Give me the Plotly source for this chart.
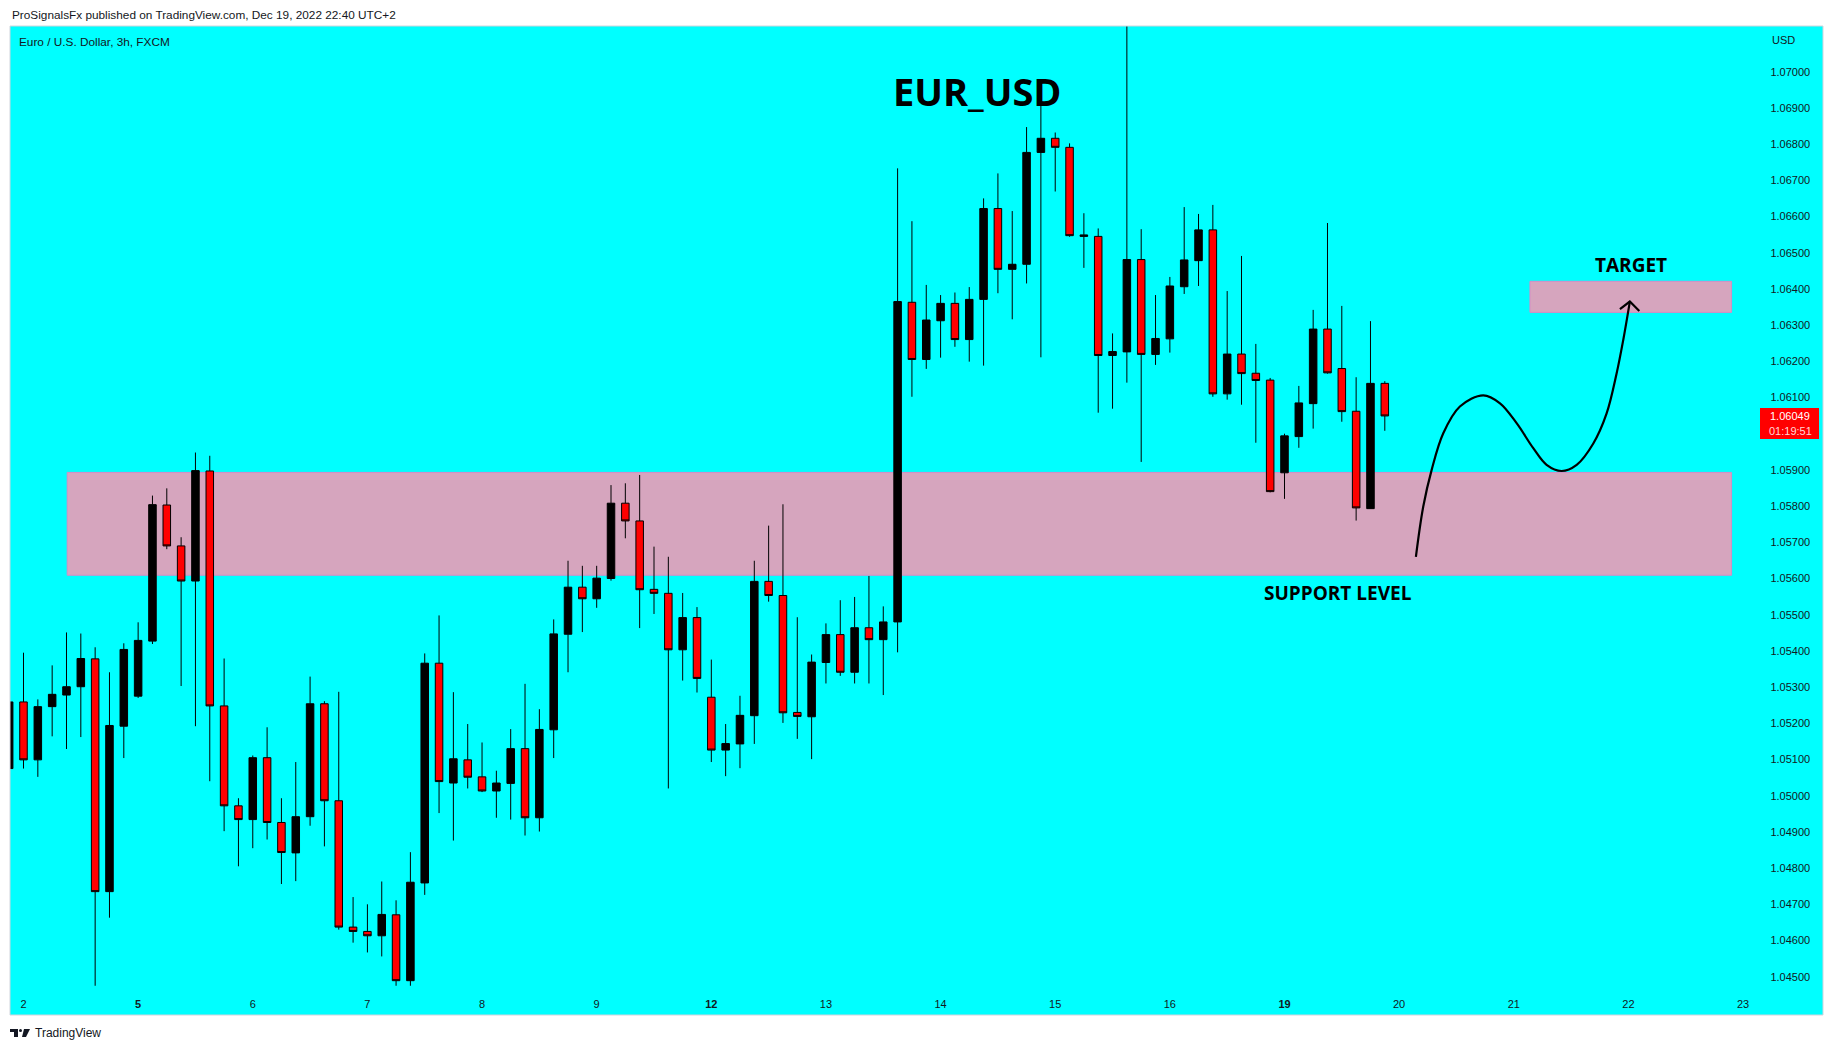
import plotly.graph_objects as go

# ---------------- data (3h EUR/USD candles, index 0 = Dec 2 00:00) ----------------
bar_index = list(range(-1, 96))
opens = [1.05075, 1.05259, 1.05099, 1.05246, 1.05278, 1.05301, 1.05378, 1.04735, 1.05192, 1.05275,
         1.05427, 1.05803, 1.05690, 1.05593, 1.05897, 1.05248, 1.04972, 1.04934, 1.05105, 1.04926,
         1.04842, 1.04942, 1.05254, 1.04986, 1.04637, 1.04625, 1.04613, 1.04671, 1.04489, 1.04759,
         1.05366, 1.05035, 1.05099, 1.05052, 1.05013, 1.05034, 1.05130, 1.04939, 1.05182, 1.05446,
         1.05576, 1.05544, 1.05600, 1.05808, 1.05759, 1.05570, 1.05559, 1.05403, 1.05492, 1.05272,
         1.05126, 1.05143, 1.05221, 1.05592, 1.05553, 1.05230, 1.05218, 1.05368, 1.05445, 1.05341,
         1.05464, 1.05431, 1.05480, 1.06363, 1.06205, 1.06312, 1.06360, 1.06260, 1.06371, 1.06622,
         1.06454, 1.06468, 1.06777, 1.06816, 1.06791, 1.06545, 1.06545, 1.06216, 1.06226, 1.06481,
         1.06219, 1.06262, 1.06406, 1.06478, 1.06563, 1.06110, 1.06220, 1.06167, 1.06148, 1.05892,
         1.05992, 1.06083, 1.06289, 1.06180, 1.06062, 1.05793, 1.06139]
highs = [1.05303, 1.05395, 1.05266, 1.05360, 1.05451, 1.05448, 1.05410, 1.05341, 1.05421, 1.05479,
         1.05829, 1.05849, 1.05714, 1.05948, 1.05939, 1.05379, 1.04993, 1.05111, 1.05189, 1.04993,
         1.05093, 1.05329, 1.05261, 1.05287, 1.04720, 1.04700, 1.04763, 1.04711, 1.04844, 1.05393,
         1.05498, 1.05286, 1.05198, 1.05147, 1.05069, 1.05184, 1.05309, 1.05239, 1.05487, 1.05649,
         1.05635, 1.05635, 1.05858, 1.05863, 1.05886, 1.05688, 1.05660, 1.05560, 1.05521, 1.05376,
         1.05198, 1.05276, 1.05649, 1.05746, 1.05805, 1.05493, 1.05390, 1.05476, 1.05540, 1.05549,
         1.05607, 1.05523, 1.06733, 1.06587, 1.06411, 1.06383, 1.06390, 1.06405, 1.06650, 1.06719,
         1.06615, 1.06847, 1.06914, 1.06832, 1.06802, 1.06609, 1.06567, 1.06277, 1.07150, 1.06565,
         1.06383, 1.06433, 1.06626, 1.06607, 1.06632, 1.06394, 1.06491, 1.06248, 1.06154, 1.06000,
         1.06132, 1.06342, 1.06582, 1.06353, 1.06156, 1.06311, 1.06145]
lows = [1.04960, 1.05075, 1.05052, 1.05164, 1.05129, 1.05162, 1.04475, 1.04663, 1.05104, 1.05270,
        1.05419, 1.05681, 1.05303, 1.05192, 1.05040, 1.04902, 1.04805, 1.04855, 1.04879, 1.04756,
        1.04764, 1.04917, 1.04860, 1.04630, 1.04594, 1.04567, 1.04556, 1.04475, 1.04475, 1.04726,
        1.04952, 1.04876, 1.05020, 1.05010, 1.04939, 1.04934, 1.04890, 1.04901, 1.05104, 1.05341,
        1.05452, 1.05519, 1.05594, 1.05711, 1.05463, 1.05502, 1.05020, 1.05318, 1.05285, 1.05093,
        1.05054, 1.05076, 1.05143, 1.05536, 1.05201, 1.05157, 1.05101, 1.05310, 1.05331, 1.05310,
        1.05310, 1.05278, 1.05396, 1.06102, 1.06179, 1.06210, 1.06240, 1.06199, 1.06188, 1.06388,
        1.06316, 1.06415, 1.06211, 1.06669, 1.06544, 1.06458, 1.06058, 1.06069, 1.06141, 1.05922,
        1.06190, 1.06224, 1.06386, 1.06408, 1.06102, 1.06094, 1.06080, 1.05975, 1.05838, 1.05820,
        1.05961, 1.06014, 1.06166, 1.06033, 1.05760, 1.05793, 1.06008]
closes = [1.05259, 1.05099, 1.05246, 1.05280, 1.05301, 1.05379, 1.04735, 1.05194, 1.05404, 1.05429,
          1.05804, 1.05690, 1.05593, 1.05898, 1.05248, 1.04972, 1.04934, 1.05105, 1.04926, 1.04843,
          1.04942, 1.05254, 1.04986, 1.04637, 1.04625, 1.04613, 1.04672, 1.04489, 1.04761, 1.05366,
          1.05039, 1.05102, 1.05051, 1.05013, 1.05035, 1.05130, 1.04939, 1.05183, 1.05447, 1.05576,
          1.05544, 1.05601, 1.05808, 1.05759, 1.05569, 1.05559, 1.05403, 1.05492, 1.05324, 1.05126,
          1.05144, 1.05222, 1.05592, 1.05553, 1.05229, 1.05219, 1.05369, 1.05445, 1.05341, 1.05464,
          1.05431, 1.05480, 1.06365, 1.06205, 1.06314, 1.06360, 1.06260, 1.06371, 1.06622, 1.06454,
          1.06468, 1.06777, 1.06816, 1.06791, 1.06547, 1.06549, 1.06216, 1.06227, 1.06481, 1.06219,
          1.06263, 1.06408, 1.06480, 1.06563, 1.06110, 1.06220, 1.06166, 1.06147, 1.05840, 1.05994,
          1.06085, 1.06289, 1.06168, 1.06061, 1.05795, 1.06139, 1.06049]

day_tick_index = [0, 8, 16, 24, 32, 40, 48, 56, 64, 72, 80, 88, 96, 104, 112, 120]
day_tick_labels = ["2", "<b>5</b>", "6", "7", "8", "9", "<b>12</b>", "13", "14", "15", "16",
                   "<b>19</b>", "20", "21", "22", "23"]
price_ticks = [1.045, 1.046, 1.047, 1.048, 1.049, 1.050, 1.051, 1.052, 1.053, 1.054, 1.055, 1.056,
               1.057, 1.058, 1.059, 1.060, 1.061, 1.062, 1.063, 1.064, 1.065, 1.066, 1.067, 1.068,
               1.069, 1.070]
price_tick_labels = [f"{v:.5f}" for v in price_ticks]

last_price = 1.06049
countdown = "01:19:51"

# user drawings (bar index, price)
support_zone = [3.05, 119.2, 1.05609, 1.05893]
target_zone = [105.13, 119.2, 1.06335, 1.06421]
path_index = [97.17, 97.68, 98.27, 99.08, 100.24, 101.87, 103.04, 104.2, 105.36, 106.29,
              107.34, 108.39, 109.55, 110.48, 111.18, 111.64, 112.1]
path_price = [1.05660, 1.05798, 1.05900, 1.06001, 1.06075, 1.06106, 1.06084, 1.06029, 1.05960,
              1.05914, 1.05897, 1.05914, 1.05973, 1.06056, 1.06167, 1.06259, 1.06365]
arrow_index = [111.41, 112.1, 112.76]
arrow_price = [1.06344, 1.06365, 1.06339]

# ---------------- layout geometry ----------------
W, H = 1834, 1050
L, R, T, B = 10, 1823, 26, 1015
X_RANGE = [-0.942, 125.58]
Y_RANGE = [1.043942, 1.071262]
CYAN = "#00FFFF"
PINK = "#D6A5BE"
PINK_EDGE = "#D58CC6"
TXT = "#131722"


def px(X):
    return (X - L) / (R - L)


def py(Y):
    return (B - Y) / (B - T)


fig = go.Figure()

fig.add_trace(go.Candlestick(
    x=bar_index, open=opens, high=highs, low=lows, close=closes,
    increasing=dict(line=dict(color="black", width=1), fillcolor="black"),
    decreasing=dict(line=dict(color="black", width=1), fillcolor="#FF0000"),
    whiskerwidth=0, showlegend=False, hoverinfo="skip",
))

fig.add_trace(go.Scatter(x=path_index, y=path_price, mode="lines",
                         line=dict(color="black", width=2.2, shape="spline", smoothing=1.0),
                         showlegend=False, hoverinfo="skip"))
fig.add_trace(go.Scatter(x=arrow_index, y=arrow_price, mode="lines",
                         line=dict(color="black", width=2.2),
                         showlegend=False, hoverinfo="skip"))

shapes = []
for z in (support_zone, target_zone):
    shapes.append(dict(type="rect", xref="x", yref="y", x0=z[0], x1=z[1], y0=z[2], y1=z[3],
                       fillcolor=PINK, line=dict(color=PINK_EDGE, width=1), layer="below"))
# frame
shapes.append(dict(type="rect", xref="paper", yref="paper", x0=0, x1=1, y0=0, y1=1,
                   line=dict(color="#D1D4DC", width=1), fillcolor="rgba(0,0,0,0)", layer="above"))
# last price tag
shapes.append(dict(type="rect", xref="paper", yref="y", x0=px(1760), x1=px(1819),
                   y0=1.05985, y1=1.06071, fillcolor="#FF0000", line=dict(width=0), layer="above"))
# TradingView logo
lx0, ly0 = 10, 1029
shapes.append(dict(type="path", xref="paper", yref="paper",
                   path=f"M {px(lx0)} {py(ly0)} L {px(lx0+8)} {py(ly0)} L {px(lx0+8)} {py(ly0+8)} "
                        f"L {px(lx0+4)} {py(ly0+8)} L {px(lx0+4)} {py(ly0+3)} L {px(lx0)} {py(ly0+3)} Z",
                   fillcolor=TXT, line=dict(width=0)))
shapes.append(dict(type="circle", xref="paper", yref="paper",
                   x0=px(lx0+9), x1=px(lx0+12), y0=py(ly0+3), y1=py(ly0), fillcolor=TXT,
                   line=dict(width=0)))
shapes.append(dict(type="path", xref="paper", yref="paper",
                   path=f"M {px(lx0+14)} {py(ly0)} L {px(lx0+20)} {py(ly0)} L {px(lx0+16)} {py(ly0+8)} "
                        f"L {px(lx0+12)} {py(ly0+8)} Z",
                   fillcolor=TXT, line=dict(width=0)))

ann = []
ann.append(dict(xref="paper", yref="paper", x=px(10), y=py(15), xanchor="left", yanchor="middle",
                text="ProSignalsFx published on TradingView.com, Dec 19, 2022 22:40 UTC+2",
                showarrow=False, font=dict(family="Liberation Sans", size=11.8, color=TXT)))
ann.append(dict(xref="paper", yref="paper", x=px(17), y=py(42), xanchor="left", yanchor="middle",
                text="Euro / U.S. Dollar, 3h, FXCM", showarrow=False,
                font=dict(family="Liberation Sans", size=11.8, color=TXT)))
ann.append(dict(xref="paper", yref="paper", x=px(1770), y=py(40), xanchor="left", yanchor="middle",
                text="USD", showarrow=False, font=dict(family="Liberation Sans", size=11, color=TXT)))
ann.append(dict(xref="paper", yref="paper", x=px(33), y=py(1033), xanchor="left", yanchor="middle",
                text="TradingView", showarrow=False,
                font=dict(family="Liberation Sans", size=12, color=TXT)))
ann.append(dict(xref="x", yref="y", x=66.57, y=1.06947, text="EUR_USD", showarrow=False,
                xanchor="center", yanchor="middle",
                font=dict(family="Open Sans", size=38, color="black", weight="bold")))
ann.append(dict(xref="x", yref="y", x=112.15, y=1.06466, text="TARGET", showarrow=False,
                xanchor="center", yanchor="middle",
                font=dict(family="Open Sans", size=19, color="black", weight="bold")))
ann.append(dict(xref="x", yref="y", x=91.73, y=1.05560, text="SUPPORT LEVEL", showarrow=False,
                xanchor="center", yanchor="middle",
                font=dict(family="Open Sans", size=19, color="black", weight="bold")))
ann.append(dict(xref="paper", yref="y", x=px(1790), y=last_price, text=f"{last_price:.5f}",
                showarrow=False, xanchor="center", yanchor="middle",
                font=dict(family="Liberation Sans", size=11, color="white")))
ann.append(dict(xref="paper", yref="y", x=px(1790), y=1.06008, text=countdown,
                showarrow=False, xanchor="center", yanchor="middle",
                font=dict(family="Liberation Sans", size=11, color="#FFD6D6")))

fig.update_layout(
    width=W, height=H,
    margin=dict(l=L, r=W - R, t=T, b=H - B, pad=0),
    paper_bgcolor="white", plot_bgcolor=CYAN,
    shapes=shapes, annotations=ann,
    showlegend=False,
    boxgap=0.25,
    xaxis=dict(range=X_RANGE, rangeslider=dict(visible=False), showgrid=False, zeroline=False,
               showline=False, tickmode="array", tickvals=day_tick_index, ticktext=day_tick_labels,
               ticklabelposition="inside", ticks="inside", ticklen=4, tickcolor="rgba(0,0,0,0)",
               tickfont=dict(family="Liberation Sans", size=11, color=TXT), fixedrange=True),
    yaxis=dict(range=Y_RANGE, side="right", showgrid=False, zeroline=False, showline=False,
               tickmode="array", tickvals=price_ticks, ticktext=price_tick_labels,
               ticklabelposition="inside", ticks="inside", ticklen=12, tickcolor="rgba(0,0,0,0)",
               tickfont=dict(family="Liberation Sans", size=11, color=TXT), fixedrange=True),
)

fig.write_html("out.html", config={"displayModeBar": False},
               post_script="document.body.style.margin='0';document.body.style.overflow='hidden';")
